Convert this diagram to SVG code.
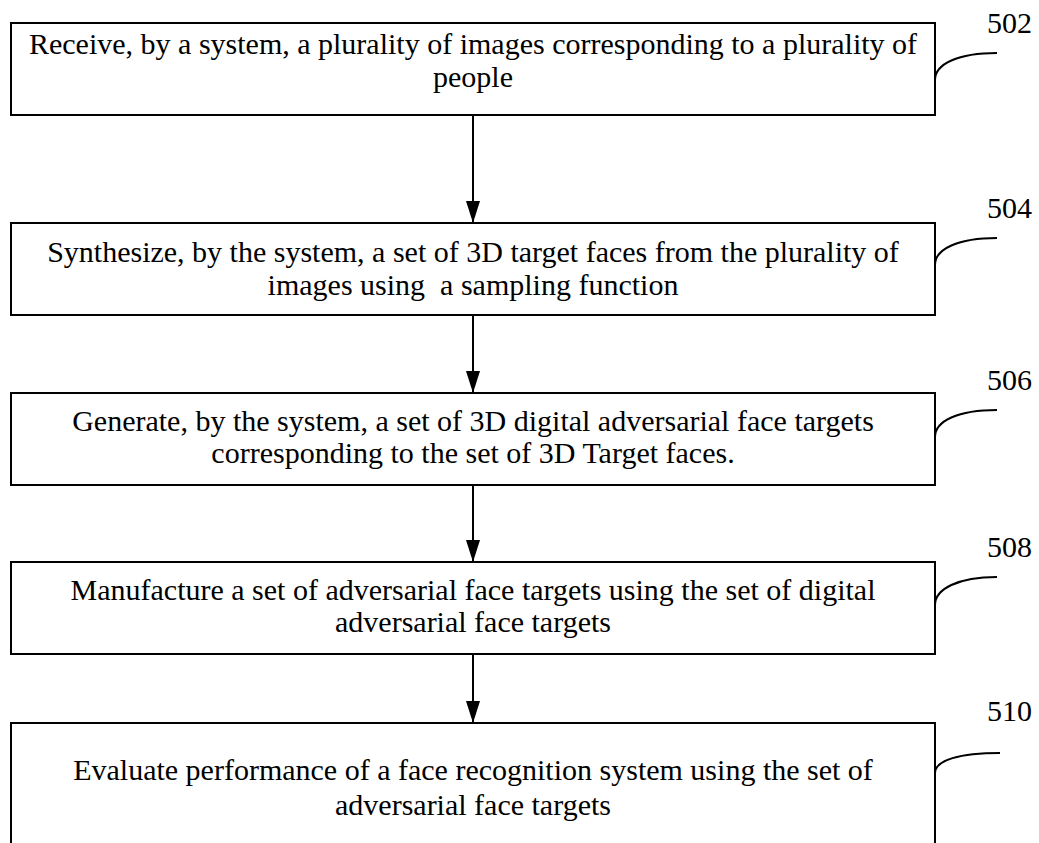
<svg xmlns="http://www.w3.org/2000/svg" width="1039" height="843" viewBox="0 0 1039 843">
  <style>
    .box { fill: #ffffff; stroke: #000000; stroke-width: 2; }
    .txt { font-family: "Liberation Serif", "Times New Roman", serif; font-size: 30px; fill: #000000; text-anchor: middle; white-space: pre; }
    .ref { font-family: "Liberation Serif", "Times New Roman", serif; font-size: 30px; fill: #000000; }
    .lead { fill: none; stroke: #000000; stroke-width: 2; }
    .edge { fill: none; stroke: #000000; stroke-width: 2; marker-end: url(#arrow); }
  </style>
  <defs>
    <!-- solid triangular arrowhead, tip at the end of the line -->
    <marker id="arrow" markerWidth="22" markerHeight="14" refX="22" refY="7" orient="auto" markerUnits="userSpaceOnUse" viewBox="0 0 22 14">
      <path d="M0,0 L22,7 L0,14 Z" fill="#000000"/>
    </marker>
  </defs>
  <rect width="1039" height="843" fill="#ffffff"/>

  <!-- connectors between steps -->
  <g id="connectors">
    <line class="edge" x1="473" y1="116" x2="473" y2="223"/>
    <line class="edge" x1="473" y1="316" x2="473" y2="393"/>
    <line class="edge" x1="473" y1="485" x2="473" y2="562"/>
    <line class="edge" x1="473" y1="654" x2="473" y2="723"/>
  </g>

  <g id="step502">
    <rect class="box" x="11" y="23" width="924" height="92"/>
    <text class="txt" x="473" y="54">Receive, by a system, a plurality of images corresponding to a plurality of</text>
    <text class="txt" x="473" y="87">people</text>
    <path class="lead" d="M935,80 C935,64 958,53 997,53"/>
    <text class="ref" x="987" y="33">502</text>
  </g>

  <g id="step504">
    <rect class="box" x="11" y="223" width="924" height="92"/>
    <text class="txt" x="473" y="262">Synthesize, by the system, a set of 3D target faces from the plurality of</text>
    <text class="txt" x="473" y="295">images using  a sampling function</text>
    <path class="lead" d="M935,265 C935,249 958,238 997,238"/>
    <text class="ref" x="987" y="218">504</text>
  </g>

  <g id="step506">
    <rect class="box" x="11" y="393" width="924" height="92"/>
    <text class="txt" x="473" y="431">Generate, by the system, a set of 3D digital adversarial face targets</text>
    <text class="txt" x="473" y="463">corresponding to the set of 3D Target faces.</text>
    <path class="lead" d="M935,437 C935,421 958,410 997,410"/>
    <text class="ref" x="987" y="390">506</text>
  </g>

  <g id="step508">
    <rect class="box" x="11" y="562" width="924" height="92"/>
    <text class="txt" x="473" y="600">Manufacture a set of adversarial face targets using the set of digital</text>
    <text class="txt" x="473" y="632">adversarial face targets</text>
    <path class="lead" d="M935,605 C935,589 958,577 997,577"/>
    <text class="ref" x="987" y="557">508</text>
  </g>

  <g id="step510">
    <path class="box" d="M11,850 L11,723 L935,723 L935,850"/>
    <text class="txt" x="473" y="780">Evaluate performance of a face recognition system using the set of</text>
    <text class="txt" x="473" y="815">adversarial face targets</text>
    <path class="lead" d="M935,773 C935,760 960,753 1000,753"/>
    <text class="ref" x="987" y="721">510</text>
  </g>
</svg>
